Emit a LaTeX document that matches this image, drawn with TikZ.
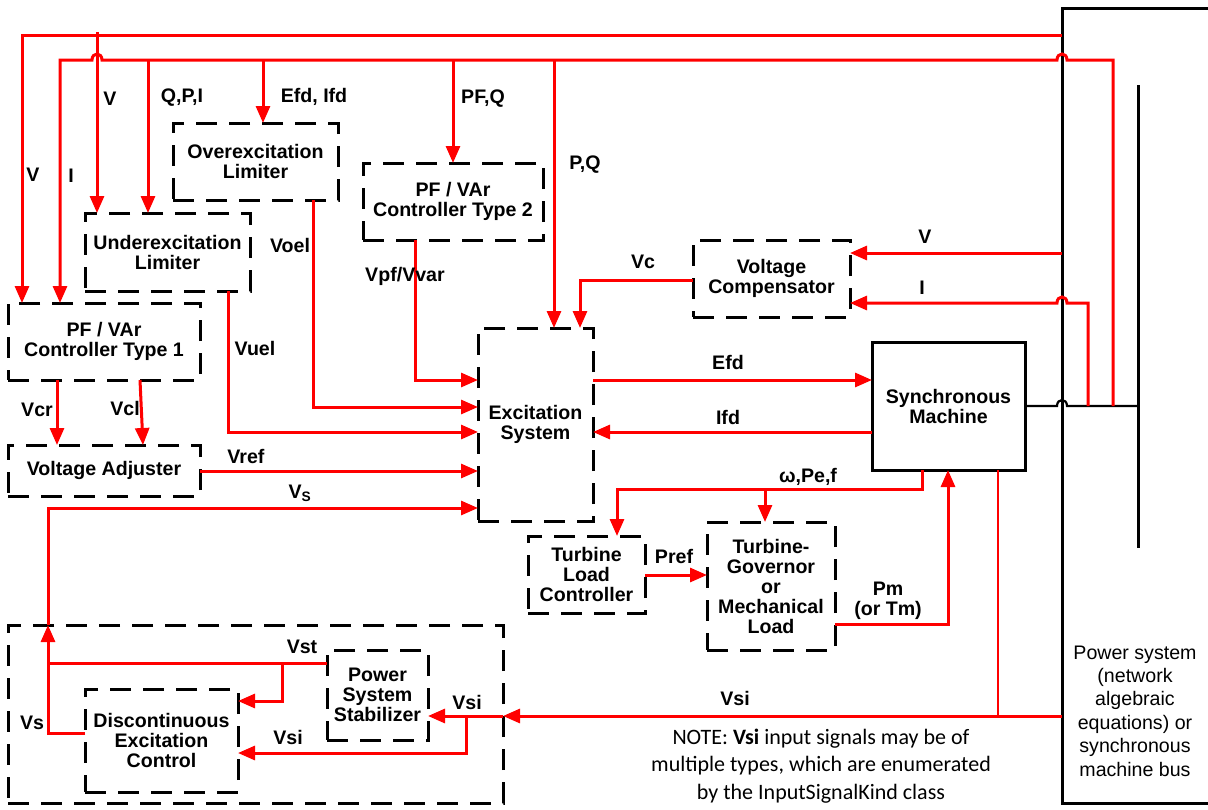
\documentclass[tikz,border=0pt]{standalone}
\usepackage{fontspec}
\setmainfont{Liberation Sans}
\newfontfamily\mycarl{Carlito}
\newcommand\mylbl{\bfseries\fontsize{19.6}{20}\selectfont}
\newcommand\myps{\fontsize{19.6}{23.4}\selectfont}
\newcommand\mynote{\mycarl\fontsize{22}{27.5}\selectfont}
\usetikzlibrary{arrows.meta}
\begin{document}
\begin{tikzpicture}[x=1pt,y=-1pt,
  box/.style={draw=black,line width=3pt,dash pattern=on 21pt off 12pt,align=center,inner sep=0pt,outer sep=0pt,font=\mylbl},
  solidbox/.style={draw=black,line width=3pt,align=center,inner sep=0pt,outer sep=0pt,font=\mylbl},
  sig/.style={draw=red,line width=3pt},
  sigthin/.style={draw=red,line width=1.8pt},
  arr/.style={sig,-{Triangle[length=17pt,width=14pt]}},
  blk/.style={draw=black,line width=2.2pt},
  lab/.style={font=\mylbl,inner sep=0pt,align=center},
]
\useasboundingbox (0,0) rectangle (1208,809);
% boxes
\node[box,minimum width=165pt,minimum height=77pt] (oel) at (255.5,161.5) {Overexcitation\\Limiter};
\node[box,minimum width=165pt,minimum height=78pt] (uel) at (167.5,252) {Underexcitation\\Limiter};
\node[box,minimum width=192pt,minimum height=77pt] (pf1) at (104,341.5) {PF / VAr\\Controller Type 1};
\node[box,minimum width=192pt,minimum height=51pt] (va) at (104,470.5) {Voltage Adjuster};
\node[box,minimum width=180pt,minimum height=77pt] (pf2) at (453,201.5) {PF / VAr\\Controller Type 2};
\node[box,minimum width=115pt,minimum height=193pt] (exc) at (535.5,424.5) {Excitation\\System};
\node[box,minimum width=157pt,minimum height=77pt] (vc) at (771.5,278.5) {Voltage\\Compensator};
\node[solidbox,minimum width=153pt,minimum height=128pt] (sm) at (948.5,406) {Synchronous\\Machine};
\node[box,minimum width=117pt,minimum height=77pt] (tlc) at (586.5,574.5) {Turbine\\Load\\Controller};
\node[box,minimum width=128pt,minimum height=128pt] (tg) at (771,586) {Turbine-\\Governor\\or\\Mechanical\\Load};
\node[box,minimum width=495pt,minimum height=178pt] (outer) at (255.5,714) {};
\node[box,minimum width=101pt,minimum height=90pt] (pss) at (377.5,695) {Power\\System\\Stabilizer};
\node[box,minimum width=153pt,minimum height=103pt] (dec) at (161.5,740.5) {Discontinuous\\Excitation\\Control};
% power system
\node[solidbox,minimum width=300pt,minimum height=795pt] (psb) at (1212,405.5) {};
\node[font=\myps,align=center,inner sep=0pt] (pstxt) at (1135,711) {Power system\\(network\\algebraic\\equations) or\\synchronous\\machine bus};
\coordinate (busT) at (1138,85);
\coordinate (busB) at (1138,548);
\coordinate (busjoin) at (1138,406);
\draw[draw=black,line width=3pt] (busT) -- (busB);
\draw[blk] (sm.east |- busjoin) -- (1057,406) .. controls (1057,398) and (1067,398) .. (1067,406) -- (busjoin);
% top lines
\draw[arr] (psb.west |- 0,35) -- (22,35) -- (22,0 |- pf1.north);
\draw[arr] (97,32) -- (97,0 |- uel.north);
\draw[arr] (1113,0 |- busjoin) -- (1113,60) -- (1067,60) .. controls (1067,52) and (1057,52) .. (1057,60) -- (102,60) .. controls (102,52) and (92,52) .. (92,60) -- (60,60) -- (60,0 |- pf1.north);
\draw[arr] (148,60) -- (148,0 |- uel.north);
\draw[arr] (263,60) -- (263,0 |- oel.north);
\draw[arr] (453,60) -- (453,0 |- pf2.north);
\draw[arr] (554,60) -- (554,0 |- exc.north);
% voltage compensator
\draw[arr] (psb.west |- 0,253) -- (vc.east |- 0,253);
\draw[arr] (1088,0 |- busjoin) -- (1088,303) -- (1067,303) .. controls (1067,295) and (1057,295) .. (1057,303) -- (vc.east |- 0,303);
\draw[arr] (vc.west |- 0,280) -- (580,280) -- (580,0 |- exc.north);
% inputs to excitation
\draw[arr] (415,0 |- pf2.south) -- (415,380) -- (exc.west |- 0,380);
\draw[arr] (313,0 |- oel.south) -- (313,407) -- (exc.west |- 0,407);
\draw[arr] (228,0 |- uel.south) -- (228,432) -- (exc.west |- 0,432);
\draw[arr] (va.east |- 0,471) -- (exc.west |- 0,471);
\draw[arr] (48,0 |- outer.north) -- (48,508) -- (exc.west |- 0,508);
\draw[arr] (57,0 |- pf1.south) -- (57,0 |- va.north);
\draw[arr] (140,0 |- pf1.south) -- (143,0 |- va.north);
% excitation - machine
\draw[arr] (exc.east |- 0,380) -- (sm.west |- 0,380);
\draw[arr] (sm.west |- 0,432) -- (exc.east |- 0,432);
% turbine
\draw[arr] (922,0 |- sm.south) -- (922,489) -- (617,489) -- (617,0 |- tlc.north);
\draw[arr] (765,489) -- (765,0 |- tg.north);
\draw[arr] (tlc.east |- 0,575) -- (tg.west |- 0,575);
\draw[arr] (tg.east |- 0,624) -- (948,624) -- (948,0 |- sm.south);
% Vsi
\draw[sigthin] (998,0 |- sm.south) -- (998,716);
\draw[arr] (psb.west |- 0,716) -- (outer.east |- 0,716);
\draw[arr] (outer.east |- 0,716) -- (pss.east |- 0,716);
\draw[arr] (466,716) -- (466,753) -- (dec.east |- 0,753);
\draw[sig] (pss.west |- 0,663) -- (48,663);
\draw[arr] (282,663) -- (282,701) -- (dec.east |- 0,701);
\draw[arr] (dec.west |- 0,733) -- (48,733) -- (48,0 |- outer.north);
% labels
\node[lab] (l1) at (110,99) {V};
\node[lab] (l2) at (182,98) {Q,P,I};
\node[lab] (l3) at (314,97) {Efd, Ifd};
\node[lab] (l4) at (33,175) {V};
\node[lab] (l5) at (71,176) {I};
\node[lab] (l6) at (483,99) {PF,Q};
\node[lab] (l7) at (585,165) {P,Q};
\node[lab] (l8) at (290,245) {Voel};
\node[lab] (l9) at (405,276) {Vpf/Vvar};
\node[lab] (l10) at (255,348) {Vuel};
\node[lab] (l11) at (643,262) {Vc};
\node[lab] (l12) at (925,237) {V};
\node[lab] (l13) at (922,288) {I};
\node[lab] (l14) at (37,410) {Vcr};
\node[lab] (l15) at (125,408) {Vcl};
\node[lab] (l16) at (246,456) {Vref};
\node[lab] (l17) at (300,493) {V\textsubscript{S}};
\node[lab] (l18) at (728,362) {Efd};
\node[lab] (l19) at (728,417) {Ifd};
\node[lab] (l20) at (808,477) {ω,Pe,f};
\node[lab] (l21) at (674,556) {Pref};
\node[lab] (l22) at (888,601) {Pm\\(or Tm)};
\node[lab] (l23) at (735,698) {Vsi};
\node[lab] (l24) at (302,647) {Vst};
\node[lab] (l25) at (467,702) {Vsi};
\node[lab] (l26) at (288,737) {Vsi};
\node[lab] (l27) at (32,723) {Vs};
\node[font=\mynote,align=center,inner sep=0pt] (note) at (821,766) {NOTE: \textbf{Vsi} input signals may be of\\multiple types, which are enumerated\\by the InputSignalKind class};
\end{tikzpicture}
\end{document}
